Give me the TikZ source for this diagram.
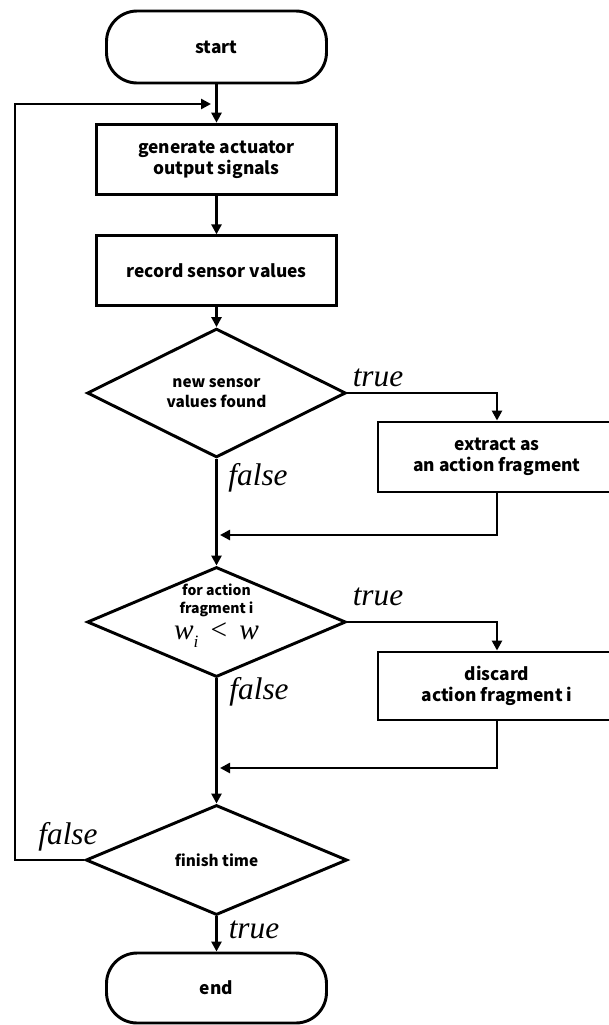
\documentclass[tikz,border=0pt]{standalone}
\usepackage{fontspec}
\setmainfont{Noto Sans CJK JP}
\newfontfamily\labfont{Liberation Serif}
\usetikzlibrary{shapes.geometric,arrows.meta}
\tikzset{
  lw/.style={line width=2.2pt},
  txt/.style={font=\bfseries\fontsize{13}{16}\selectfont, align=center},
  procbox/.style={lw, draw, txt, minimum width=180pt, minimum height=53pt, inner sep=0pt},
  termbox/.style={lw, draw, txt, rounded corners=23pt, minimum width=165pt, minimum height=54pt, inner sep=0pt},
  decbox/.style={lw, draw, diamond, align=center, minimum width=194pt, minimum height=82.5pt, inner sep=0pt},
  dectxt/.style={font=\bfseries\fontsize{11.5}{15}\selectfont},
  conn/.style={lw, -{Triangle[length=7.5pt,width=7.5pt]}},
  plain/.style={lw},
  lab/.style={font=\labfont\itshape\fontsize{23.5}{26}\selectfont, inner sep=0pt},
}
\begin{document}
\begin{tikzpicture}[x=0.75pt,y=-0.75pt]
\useasboundingbox (0,0) rectangle (608,1025);
\node[termbox] (start) at (216.5,47) {start};
\node[procbox] (gen) at (216.5,159.5) {generate actuator\\output signals};
\node[procbox, minimum height=52pt] (rec) at (216.5,270.5) {record sensor values};
\node[decbox, dectxt] (d1) at (216.5,393) {new sensor\\values found};
\node[procbox, minimum width=178.5pt, minimum height=52.5pt] (ext) at (497,457) {extract as\\an action fragment};
\node[decbox] (d2) at (216.5,622) {};
\node[align=center, inner sep=0pt, font=\bfseries\fontsize{10.5}{13.5}\selectfont] (d2t) at (216.5,616) {for action\\fragment i\\[3pt]{\normalfont\labfont\fontsize{22}{16}\selectfont\itshape w\raisebox{-0.3em}{\fontsize{13}{13}\selectfont i}\ \,\upshape<\ \,\itshape w}};
\node[procbox, minimum width=178.5pt, minimum height=51pt] (dis) at (497,686) {discard\\action fragment i};
\node[decbox, minimum width=196pt, dectxt] (d3) at (216.5,860) {finish time};
\node[termbox, minimum height=52.5pt] (end) at (216.5,988) {end};

\coordinate (loopin) at (211,104);
\coordinate (ret1) at (220,535);
\coordinate (ret2) at (220,768);
\coordinate (j1) at (216.5,520);
\coordinate (j2) at (216.5,750);
\coordinate (lc1) at (15,860);
\coordinate (lc2) at (15,104);

\draw[conn] (start) -- (gen);
\draw[conn] (gen) -- (rec);
\draw[conn] (rec) -- (d1);
\draw[plain] (d1.south) -- (j1);
\draw[conn] (j1) -- (d2.north);
\draw[conn] (d1.east) -| (ext.north);
\draw[conn] (ext.south) |- (ret1);
\draw[plain] (d2.south) -- (j2);
\draw[conn] (j2) -- (d3.north);
\draw[conn] (d2.east) -| (dis.north);
\draw[conn] (dis.south) |- (ret2);
\draw[conn] (d3.south) -- (end.north);
\draw[conn] (d3.west) -- (lc1) -- (lc2) -- (loopin);

\node[lab] (t1) at (378,378) {true};
\node[lab] (f1) at (258,478) {false};
\node[lab] (t2) at (378,597) {true};
\node[lab] (f2) at (259,692) {false};
\node[lab] (f3) at (68,837) {false};
\node[lab] (t3) at (254,930) {true};
\end{tikzpicture}
\end{document}
